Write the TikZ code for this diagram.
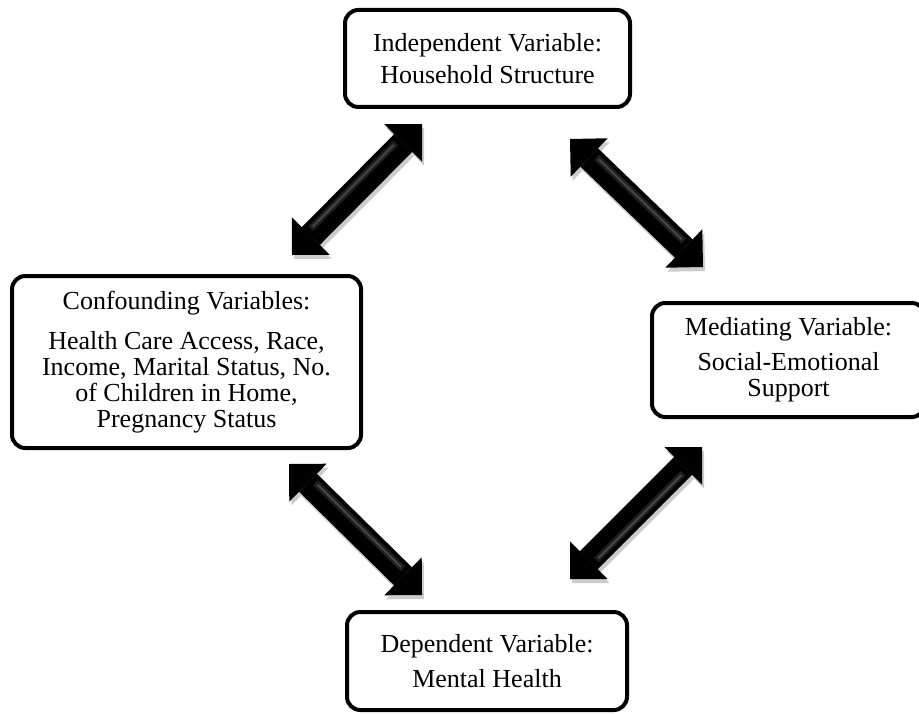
\documentclass[tikz,border=0pt]{standalone}
\usepackage{fontspec}
\setmainfont{Liberation Serif}
\usetikzlibrary{arrows.meta}
\tikzset{
  box/.style={draw, line width=3pt, rounded corners=10pt, align=center,
    font=\fontsize{19.5}{19.5}\selectfont, inner sep=0pt},
  dbl/.style={line width=19pt, {Triangle[length=20pt,width=40pt,line width=0pt]}-{Triangle[length=20pt,width=40pt,line width=0pt]}},
  dblshadow/.style={dbl, color=black!20},
  dblshine/.style={line width=5pt, color=black!88, shorten >=24pt, shorten <=24pt},
  dblshine2/.style={line width=1.4pt, color=black!72, shorten >=26pt, shorten <=26pt},
}
\newcommand\dblarrow[4]{%
  \draw[dblshadow, transform canvas={shift={(1.5pt,-3pt)}}] (#1) -- (#2);
  \draw[dbl, color=black] (#1) -- (#2);
  \draw[dblshine, transform canvas={shift={(#3,#4)}}] (#1) -- (#2);
  \draw[dblshine2, transform canvas={shift={(#3,#4)}}] (#1) -- (#2);
}
\begin{document}
\begin{tikzpicture}[x=0.75pt,y=-0.75pt]
  \useasboundingbox (0,0) rectangle (919,713);
  \clip (0,0) rectangle (919,713);
  % boxes
  \node[box, minimum width=213.75pt, minimum height=72.75pt] (iv) at (487.5,58.5)
    {Independent Variable:\\[5pt]Household Structure};
  \node[box, minimum width=261.75pt, minimum height=129pt] (cv) at (186.5,362)
    {Confounding Variables:\\[10pt]Health Care Access, Race,\\Income, Marital Status, No.\\of Children in Home,\\Pregnancy Status};
  \node[box, minimum width=204.75pt, minimum height=85.5pt] (mv) at (788.5,360)
    {Mediating Variable:\\[7pt]Social-Emotional\\Support};
  \node[box, minimum width=210pt, minimum height=73.5pt] (dv) at (487,661)
    {Dependent Variable:\\[7pt]Mental Health};
  % arrow end points
  \coordinate (a1s) at (292,255);
  \coordinate (a1e) at (422,124);
  \coordinate (a2s) at (570,139);
  \coordinate (a2e) at (703,267);
  \coordinate (a3s) at (289,464);
  \coordinate (a3e) at (422,595);
  \coordinate (a4s) at (702,447);
  \coordinate (a4e) at (570,579);
  % arrows
  \dblarrow{a1s}{a1e}{-2.8pt}{2.8pt}
  \dblarrow{a2s}{a2e}{2.8pt}{2.8pt}
  \dblarrow{a3s}{a3e}{2.8pt}{2.8pt}
  \dblarrow{a4s}{a4e}{2.8pt}{-2.8pt}
\end{tikzpicture}
\end{document}
